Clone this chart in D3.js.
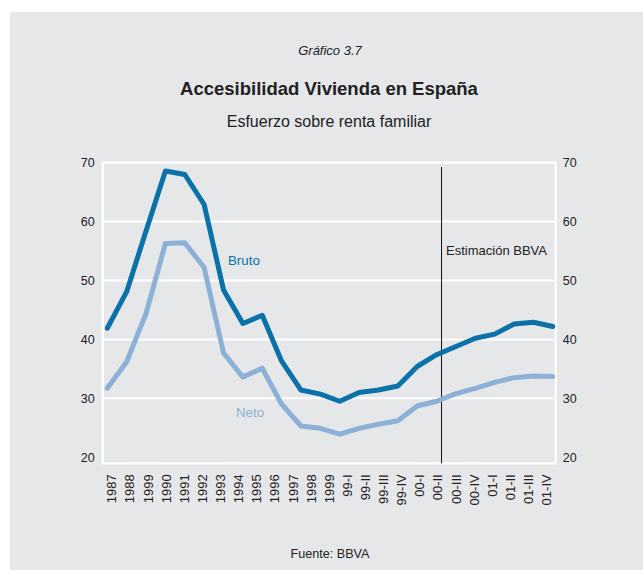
<!DOCTYPE html>
<html>
<head>
<meta charset="utf-8">
<script src="https://cdn.jsdelivr.net/npm/d3@7"></script>
<style>
  html, body { margin: 0; padding: 0; background: #ffffff; }
  svg { display: block; font-family: "Liberation Sans", Arial, Helvetica, sans-serif; }
</style>
</head>
<body>
<svg id="chart" width="643" height="570"></svg>
<script>
// Period labels along the horizontal axis (as printed)
const periods = ["1987", "1988", "1999", "1990", "1991", "1992", "1993", "1994", "1995",
  "1996", "1997", "1998", "1999", "99-I", "99-II", "99-III", "99-IV", "00-I", "00-II",
  "00-III", "00-IV", "01-I", "01-II", "01-III", "01-IV"];

// Effort over family income (%), gross and net of tax relief
const bruto = [41.9, 48.1, 58.4, 68.6, 68.0, 62.9, 48.4, 42.7, 44.1, 36.3, 31.4, 30.7,
  29.5, 31.0, 31.4, 32.1, 35.4, 37.4, 38.8, 40.2, 40.9, 42.6, 42.9, 42.2];
const neto = [31.7, 36.2, 44.4, 56.3, 56.4, 52.2, 37.7, 33.6, 35.1, 29.0, 25.3, 24.9,
  23.9, 24.9, 25.6, 26.2, 28.7, 29.5, 30.8, 31.7, 32.7, 33.5, 33.8, 33.7];

const yTicks = [20, 30, 40, 50, 60, 70];
const estimationStart = 18; // index of "00-II"

const svg = d3.select("#chart");
const W = 643, H = 570;

// Grey backdrop
svg.append("rect").attr("x", 10).attr("y", 12).attr("width", W - 10).attr("height", H - 12)
  .attr("fill", "#e6e7e9");

// Titles
svg.append("text").attr("x", 330).attr("y", 54.5).attr("text-anchor", "middle")
  .attr("font-size", 13).attr("font-style", "italic").attr("fill", "#222")
  .text("Gráfico 3.7");
svg.append("text").attr("x", 329).attr("y", 94.5).attr("text-anchor", "middle")
  .attr("font-size", 18.5).attr("font-weight", "bold").attr("fill", "#222")
  .text("Accesibilidad Vivienda en España");
svg.append("text").attr("x", 329).attr("y", 126.5).attr("text-anchor", "middle")
  .attr("font-size", 16).attr("fill", "#222")
  .text("Esfuerzo sobre renta familiar");

// Plot frame
const plotL = 102.7, plotR = 555.7, plotT = 162.7, plotB = 463.3;

const y = d3.scaleLinear().domain([20, 70]).range([457.2, plotT]);

// Category bands for the axis labels (by position, since a label repeats)
const xBand = d3.scaleBand().domain(d3.range(periods.length)).range([plotL, plotR]).padding(0);

// Observation positions for the series
const xLine = d3.scalePoint().domain(d3.range(bruto.length)).range([107.3, 552.8]);

// Gridlines
svg.append("g").selectAll("line").data(yTicks.filter(t => t > 20)).join("line")
  .attr("x1", plotL).attr("x2", plotR)
  .attr("y1", d => y(d)).attr("y2", d => y(d))
  .attr("stroke", "#ffffff").attr("stroke-width", 2);

svg.append("rect").attr("x", plotL).attr("y", plotT)
  .attr("width", plotR - plotL).attr("height", plotB - plotT)
  .attr("fill", "none").attr("stroke", "#ffffff").attr("stroke-width", 2.2);

// Y axes on both sides
const yAxisL = d3.axisLeft(y).tickValues(yTicks).tickSize(0).tickPadding(8);
const yAxisR = d3.axisRight(y).tickValues(yTicks).tickSize(0).tickPadding(7);
const gL = svg.append("g").attr("transform", `translate(${plotL},0)`).call(yAxisL);
const gR = svg.append("g").attr("transform", `translate(${plotR},0)`).call(yAxisR);
[gL, gR].forEach(g => {
  g.select(".domain").remove();
  g.selectAll("text").attr("font-size", 12.5).attr("fill", "#222")
    .attr("font-family", "'Liberation Sans', Arial, sans-serif");
});

// X axis labels, rotated
const xAxis = d3.axisBottom(xBand).tickSize(0).tickPadding(0).tickFormat(i => periods[i]);
const gX = svg.append("g").attr("transform", `translate(0,${plotB})`).call(xAxis);
gX.select(".domain").remove();
gX.selectAll("text")
  .attr("font-size", 13).attr("fill", "#222")
  .attr("font-family", "'Liberation Sans', Arial, sans-serif")
  .attr("text-anchor", "end")
  .attr("transform", "rotate(-90)")
  .attr("x", -11).attr("y", 0).attr("dy", "0.35em");

// Estimation divider
const xEst = xBand(estimationStart) + xBand.bandwidth() * 0.7;
svg.append("line").attr("x1", xEst).attr("x2", xEst)
  .attr("y1", 167).attr("y2", plotB)
  .attr("stroke", "#111").attr("stroke-width", 1);
svg.append("text").attr("x", xEst + 4.5).attr("y", 255)
  .attr("font-size", 13).attr("fill", "#222").text("Estimación BBVA");

// Series
const line = d3.line().x((d, i) => xLine(i)).y(d => y(d));
svg.append("path").datum(neto).attr("d", line)
  .attr("fill", "none").attr("stroke", "#8cb0d6").attr("stroke-width", 5)
  .attr("stroke-linejoin", "round").attr("stroke-linecap", "round");
svg.append("path").datum(bruto).attr("d", line)
  .attr("fill", "none").attr("stroke", "#0a72a8").attr("stroke-width", 5)
  .attr("stroke-linejoin", "round").attr("stroke-linecap", "round");

// Series labels
svg.append("text").attr("x", 228).attr("y", 265).attr("font-size", 13.3)
  .attr("fill", "#0a72a8").text("Bruto");
svg.append("text").attr("x", 236).attr("y", 417).attr("font-size", 13.3)
  .attr("fill", "#8cb0d6").text("Neto");

// Source
svg.append("text").attr("x", 330).attr("y", 557.5).attr("text-anchor", "middle")
  .attr("font-size", 12.6).attr("fill", "#222").text("Fuente: BBVA");
</script>
</body>
</html>
